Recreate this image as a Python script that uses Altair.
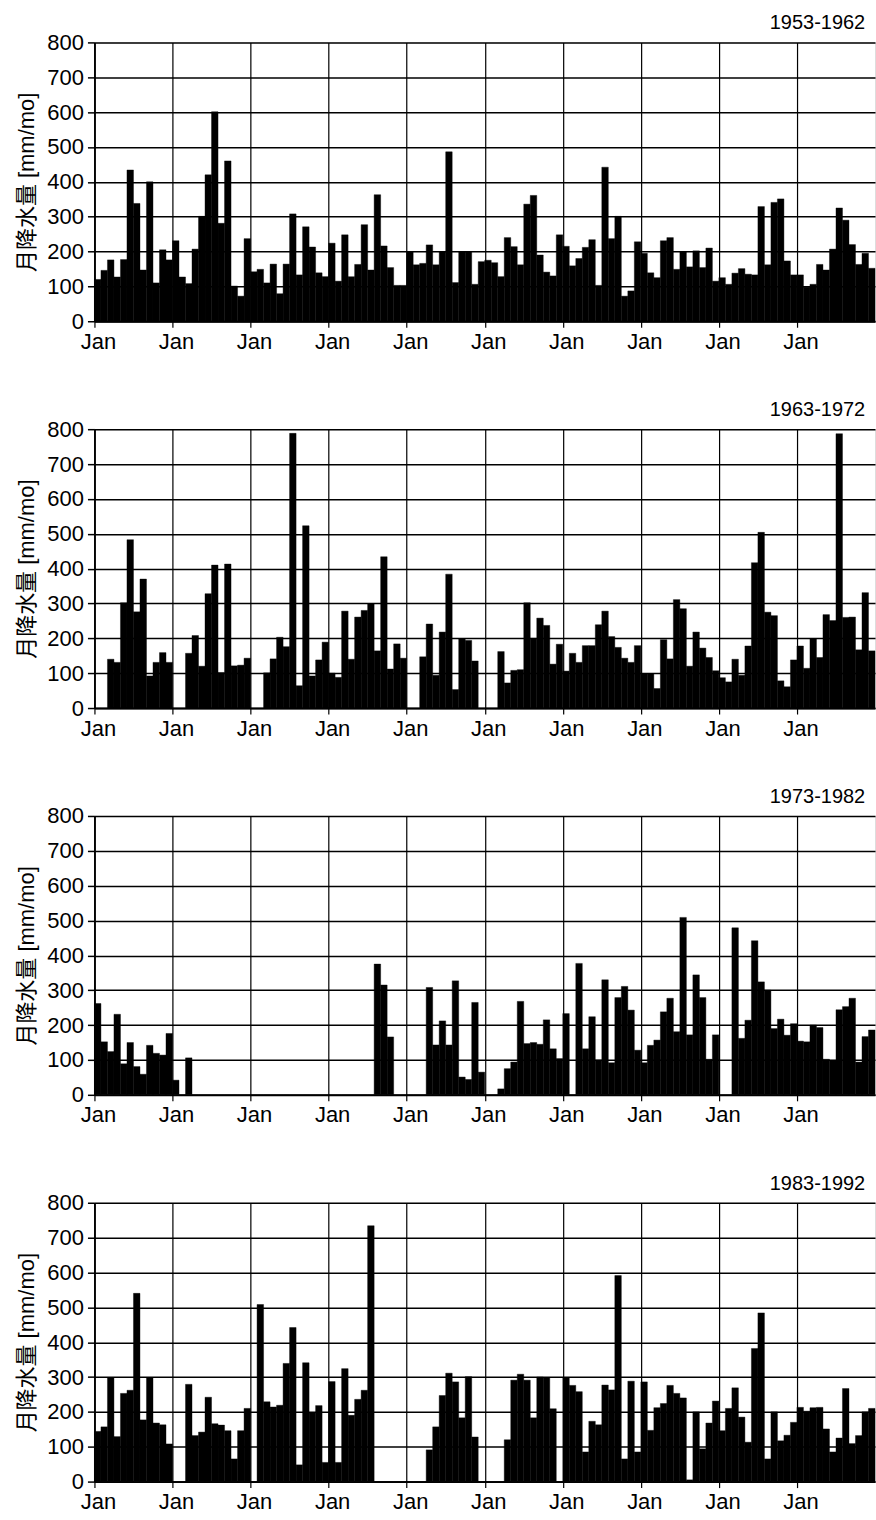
import altair as alt
import pandas as pd

titles = ["1953-1962", "1963-1972", "1973-1982", "1983-1992"]

p1 = [
    120, 146, 176, 127, 177, 434, 338, 147, 400, 110, 205, 176,
    231, 127, 108, 207, 301, 420, 601, 281, 460, 101, 72, 237,
    142, 149, 110, 164, 79, 164, 308, 133, 271, 213, 139, 128,
    224, 115, 248, 128, 163, 277, 147, 363, 216, 154, 103, 103,
    200, 162, 166, 219, 162, 200, 486, 111, 200, 200, 106, 171,
    175, 168, 128, 240, 214, 162, 336, 361, 190, 141, 130, 248,
    215, 159, 180, 212, 234, 103, 442, 237, 301, 72, 87, 228,
    195, 139, 125, 231, 240, 149, 199, 156, 202, 154, 210, 115,
    125, 106, 138, 151, 135, 133, 329, 162, 341, 351, 173, 133,
    133, 98, 106, 163, 147, 207, 325, 290, 220, 163, 195, 152,
]
p2 = [
    0, 0, 140, 131, 302, 483, 276, 370, 92, 131, 159, 131,
    0, 0, 157, 208, 120, 328, 410, 102, 413, 121, 123, 143,
    0, 0, 101, 141, 203, 176, 788, 64, 523, 92, 138, 189,
    100, 88, 278, 140, 261, 280, 299, 164, 434, 112, 184, 143,
    0, 0, 147, 241, 94, 218, 384, 53, 198, 194, 135, 0,
    0, 0, 162, 72, 108, 110, 302, 200, 258, 237, 126, 183,
    106, 157, 131, 179, 179, 239, 278, 205, 174, 143, 131, 179,
    99, 99, 56, 196, 141, 311, 285, 120, 218, 172, 145, 107,
    87, 75, 140, 94, 178, 417, 504, 275, 265, 78, 61, 138,
    178, 114, 198, 145, 268, 251, 787, 260, 261, 167, 331, 164,
]
p3 = [
    262, 152, 124, 231, 89, 150, 81, 59, 142, 119, 114, 176,
    42, 0, 106, 0, 0, 0, 0, 0, 0, 0, 0, 0,
    0, 0, 0, 0, 0, 0, 0, 0, 0, 0, 0, 0,
    0, 0, 0, 0, 0, 0, 0, 375, 315, 166, 0, 0,
    0, 0, 0, 308, 143, 212, 143, 327, 51, 44, 265, 65,
    0, 0, 17, 75, 94, 268, 147, 150, 145, 215, 132, 104,
    233, 0, 377, 132, 224, 100, 330, 92, 279, 311, 243, 128,
    92, 142, 157, 238, 277, 181, 509, 172, 344, 279, 102, 172,
    0, 0, 479, 162, 214, 442, 324, 300, 190, 217, 171, 204,
    154, 152, 200, 193, 102, 99, 244, 253, 277, 94, 167, 186,
]
p4 = [
    144, 157, 298, 129, 253, 262, 540, 177, 298, 168, 163, 108,
    0, 0, 279, 132, 142, 242, 166, 162, 146, 65, 146, 210,
    0, 508, 229, 214, 219, 339, 442, 48, 341, 197, 218, 55,
    287, 55, 324, 190, 236, 262, 734, 0, 0, 0, 0, 0,
    0, 0, 0, 91, 157, 247, 311, 286, 183, 301, 128, 0,
    0, 0, 0, 120, 291, 308, 291, 183, 300, 298, 209, 0,
    298, 276, 258, 85, 173, 163, 277, 263, 591, 65, 288, 85,
    286, 147, 212, 224, 276, 253, 240, 5, 200, 94, 168, 231,
    146, 210, 269, 185, 113, 382, 484, 65, 200, 117, 133, 170,
    213, 202, 212, 213, 151, 85, 125, 267, 109, 132, 200, 210,
]
y_ticks = [0, 100, 200, 300, 400, 500, 600, 700, 800]
x_ticks = [0, 12, 24, 36, 48, 60, 72, 84, 96, 108]
x_label = "Jan"
y_title = "月降水量 [mm/mo]"

FONT = "Liberation Sans, Arial, Noto Sans CJK SC, sans-serif"


def panel(vals, title):
    df = pd.DataFrame({
        "i": list(range(len(vals))),
        "i2": [k + 1 for k in range(len(vals))],
        "v": vals,
    })
    return (
        alt.Chart(df)
        .mark_bar(color="black", stroke="black", strokeWidth=0.4)
        .encode(
            x=alt.X(
                "i:Q",
                scale=alt.Scale(domain=[0, 120], nice=False, zero=False),
                axis=alt.Axis(
                    values=x_ticks,
                    labelExpr=f"'{x_label}'",
                    title=None,
                    grid=True,
                    gridColor="black",
                    gridWidth=1.2,
                    tickColor="black",
                    tickSize=6,
                    tickWidth=1.2,
                    domainColor="black",
                    domainWidth=1.8,
                    labelFont=FONT,
                    labelFontSize=22,
                    labelColor="black",
                    labelPadding=4,
                    labelOffset=3.5,
                    labelFlush=False,
                ),
            ),
            x2="i2:Q",
            y=alt.Y(
                "v:Q",
                scale=alt.Scale(domain=[0, 800], nice=False),
                axis=alt.Axis(
                    values=y_ticks,
                    title=y_title,
                    titleFont=FONT,
                    titleFontSize=22,
                    titleFontWeight="normal",
                    titleColor="black",
                    titlePadding=8.5,
                    grid=True,
                    gridColor="black",
                    gridWidth=1.5,
                    tickColor="black",
                    tickSize=7,
                    tickWidth=1.5,
                    domainColor="black",
                    domainWidth=1.8,
                    labelFont=FONT,
                    labelFontSize=22,
                    labelColor="black",
                    labelPadding=4,
                ),
            ),
            y2=alt.datum(0),
        )
        .properties(
            width=781,
            height=279,
            title=alt.TitleParams(
                text=title,
                anchor="end",
                font=FONT,
                fontSize=20,
                fontWeight="normal",
                color="black",
                offset=-2,
                dx=-10,
            ),
        )
    )


charts = [panel(v, t) for v, t in zip([p1, p2, p3, p4], titles)]

chart = (
    alt.vconcat(*charts, spacing=46)
    .properties(padding={"left": 14.5, "top": 12, "right": 0, "bottom": 0})
    .configure_view(stroke="black", strokeWidth=1.5)
    .configure(background="white")
)

chart.save("out.html", embed_options={"renderer": "svg", "actions": False})
